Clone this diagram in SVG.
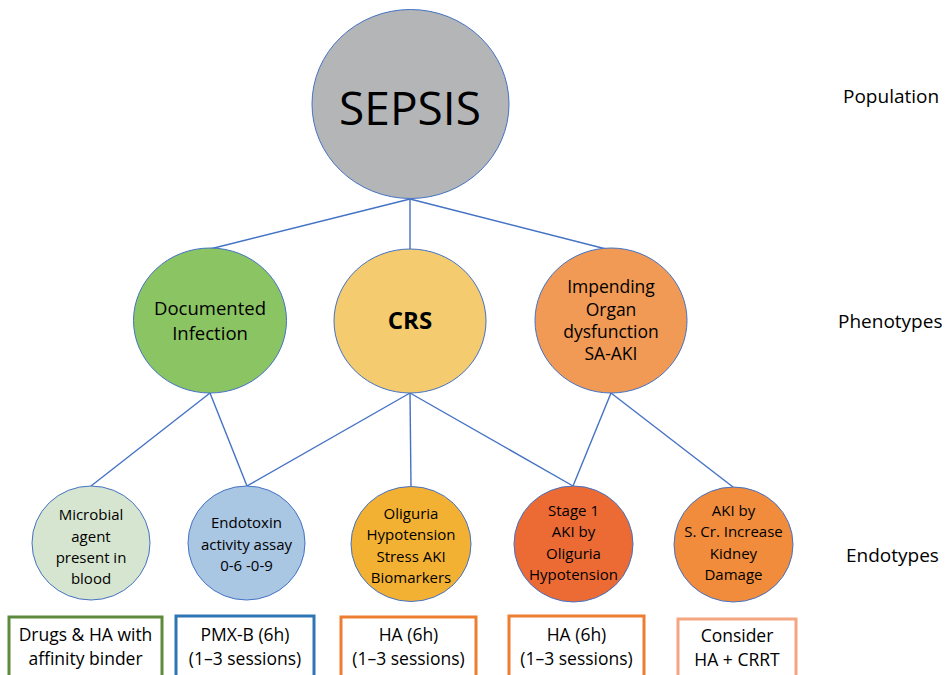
<svg xmlns="http://www.w3.org/2000/svg" width="948" height="675" viewBox="0 0 948 675">
<style>
  text { font-family: "Open Sans", "Noto Sans", "DejaVu Sans", sans-serif; fill: #000; text-anchor: middle; }
  .node { stroke: #4472C4; stroke-width: 1; }
  .conn line { stroke: #4472C4; stroke-width: 1.4; }
  .lbl { font-size: 19px; text-anchor: start; }
  .box { fill: #fff; stroke-width: 3; }
  .bt { font-size: 17.5px; }
  .et { font-size: 15px; }
</style>
<rect width="948" height="675" fill="#fff"/>
<g id="connectors" class="conn">
  <line x1="410" y1="199" x2="210" y2="249"/>
  <line x1="410" y1="199" x2="410" y2="249"/>
  <line x1="410" y1="199" x2="610" y2="250"/>
  <line x1="210" y1="393" x2="91" y2="486"/>
  <line x1="210" y1="393" x2="247" y2="486"/>
  <line x1="410" y1="393" x2="247" y2="486"/>
  <line x1="410" y1="393" x2="411" y2="487"/>
  <line x1="410" y1="393" x2="573" y2="486"/>
  <line x1="611" y1="393" x2="573" y2="486"/>
  <line x1="611" y1="393" x2="733" y2="487"/>
</g>
<g id="sepsis">
  <ellipse class="node" cx="410.5" cy="104" rx="98.5" ry="94.5" fill="#B4B5B7"/>
  <text x="410" y="125" font-size="46">SEPSIS</text>
</g>
<g id="documented-infection">
  <ellipse class="node" cx="210" cy="320.5" rx="76.5" ry="72.5" fill="#8BC563"/>
  <text x="210" y="315" font-size="18.5">Documented</text>
  <text x="210" y="340" font-size="18.5">Infection</text>
</g>
<g id="crs">
  <ellipse class="node" cx="410" cy="321" rx="76" ry="72" fill="#F4CB6E"/>
  <text x="410" y="329" font-size="24" font-weight="bold">CRS</text>
</g>
<g id="impending">
  <ellipse class="node" cx="611" cy="320.5" rx="76" ry="72.5" fill="#F09A55"/>
  <text x="611" y="293" font-size="17.5">Impending</text>
  <text x="611" y="316" font-size="17.5">Organ</text>
  <text x="611" y="338" font-size="17.5">dysfunction</text>
  <text x="611" y="360" font-size="17.5">SA-AKI</text>
</g>
<g id="microbial">
  <ellipse class="node" cx="91" cy="543" rx="59" ry="57" fill="#D6E5CF"/>
  <text class="et" x="91" y="520">Microbial</text>
  <text class="et" x="91" y="542">agent</text>
  <text class="et" x="91" y="563">present in</text>
  <text class="et" x="91" y="584">blood</text>
</g>
<g id="endotoxin">
  <ellipse class="node" cx="246.5" cy="543" rx="58.5" ry="57" fill="#A9C6E3"/>
  <text class="et" x="246.5" y="528">Endotoxin</text>
  <text class="et" x="246.5" y="550">activity assay</text>
  <text class="et" x="246.5" y="571">0-6 -0-9</text>
</g>
<g id="oliguria">
  <ellipse class="node" cx="411" cy="544" rx="60" ry="57.5" fill="#F3B133"/>
  <text class="et" x="411" y="519">Oliguria</text>
  <text class="et" x="411" y="540">Hypotension</text>
  <text class="et" x="411" y="562">Stress AKI</text>
  <text class="et" x="411" y="583">Biomarkers</text>
</g>
<g id="stage1">
  <ellipse class="node" cx="573.5" cy="544" rx="59.5" ry="58" fill="#EC6B35"/>
  <text class="et" x="573.5" y="516">Stage 1</text>
  <text class="et" x="573.5" y="537">AKI by</text>
  <text class="et" x="573.5" y="559">Oliguria</text>
  <text class="et" x="573.5" y="580">Hypotension</text>
</g>
<g id="aki-scr">
  <ellipse class="node" cx="733.5" cy="544.5" rx="59.5" ry="57.5" fill="#F08C3C"/>
  <text class="et" x="733.5" y="516">AKI by</text>
  <text class="et" x="733.5" y="537">S. Cr. Increase</text>
  <text class="et" x="733.5" y="559">Kidney</text>
  <text class="et" x="733.5" y="580">Damage</text>
</g>
<g id="box-drugs">
  <rect class="box" x="9" y="617" width="153" height="70" stroke="#5E8A3C"/>
  <text class="bt" x="85.5" y="641">Drugs &amp; HA with</text>
  <text class="bt" x="85.5" y="665">affinity binder</text>
</g>
<g id="box-pmx">
  <rect class="box" x="176" y="616" width="138" height="70" stroke="#2E75B6"/>
  <text class="bt" x="245" y="641">PMX-B (6h)</text>
  <text class="bt" x="245" y="665">(1–3 sessions)</text>
</g>
<g id="box-ha1">
  <rect class="box" x="341" y="617" width="135" height="70" stroke="#ED7D31"/>
  <text class="bt" x="408.5" y="641">HA (6h)</text>
  <text class="bt" x="408.5" y="665">(1–3 sessions)</text>
</g>
<g id="box-ha2">
  <rect class="box" x="509" y="616" width="135" height="70" stroke="#ED7D31"/>
  <text class="bt" x="576.5" y="641">HA (6h)</text>
  <text class="bt" x="576.5" y="665">(1–3 sessions)</text>
</g>
<g id="box-consider">
  <rect class="box" x="678" y="619" width="118" height="70" stroke="#F4A582"/>
  <text class="bt" x="737" y="642">Consider</text>
  <text class="bt" x="737" y="666">HA + CRRT</text>
</g>
<g id="labels">
  <text class="lbl" x="843" y="103">Population</text>
  <text class="lbl" x="838" y="328">Phenotypes</text>
  <text class="lbl" x="846" y="562">Endotypes</text>
</g>
</svg>
